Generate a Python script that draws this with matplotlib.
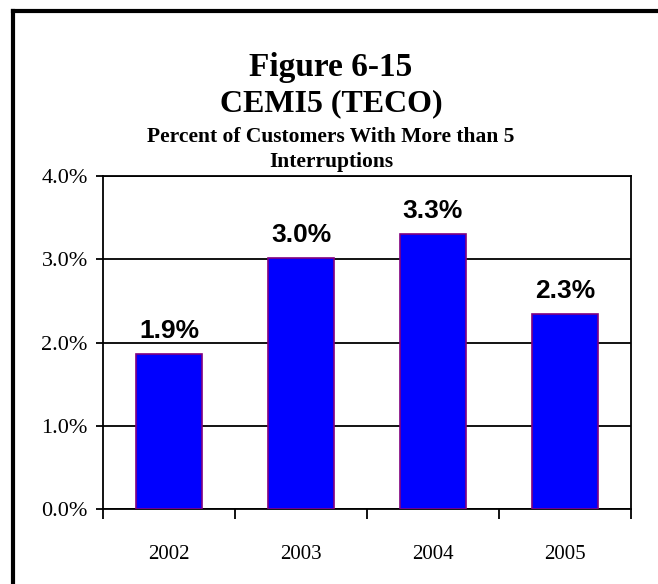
import matplotlib
matplotlib.use("Agg")
import matplotlib.pyplot as plt
from matplotlib.lines import Line2D
from matplotlib.ticker import FuncFormatter

# chart data
years = ["2002", "2003", "2004", "2005"]
cemi5_pct = [1.86, 3.01, 3.30, 2.34]
y_ticks = [0.0, 1.0, 2.0, 3.0, 4.0]

title_lines = ["Figure 6-15", "CEMI5 (TECO)"]
subtitle_lines = ["Percent of Customers With More than 5", "Interruptions"]

fig = plt.figure(figsize=(6.58, 5.84), dpi=100)
ax = fig.add_axes([0.1565, 0.1284, 0.8025, 0.5702])

x = range(len(years))
bars = ax.bar(x, cemi5_pct, width=0.5, color="#0000FF", edgecolor="#800080",
              linewidth=1.2, zorder=3)

# value labels above bars
for i, v in enumerate(cemi5_pct):
    ax.annotate(f"{v:.1f}%", (i, v), xytext=(0, 8), textcoords="offset points",
                ha="center", va="bottom", fontsize=19, fontweight="bold",
                family="Liberation Sans")

ax.set_xlim(-0.5, len(years) - 0.5)
ax.set_ylim(0, 4.0)
ax.set_yticks(y_ticks)
ax.yaxis.set_major_formatter(FuncFormatter(lambda v, p: f"{v:.1f}%"))
ax.grid(axis="y", color="black", linewidth=1.3, zorder=0)

# year labels centred on bars, tick marks between categories
ax.set_xticks([i - 0.5 for i in range(len(years) + 1)])
ax.set_xticklabels([])
ax.set_xticks(list(x), minor=True)
ax.set_xticklabels(years, minor=True)
ax.tick_params(axis="x", which="major", length=7, width=1.3, direction="out")
ax.tick_params(axis="x", which="minor", length=0, pad=26, labelsize=15)
ax.tick_params(axis="y", length=5, width=1.3, direction="out", labelsize=16, pad=6)
for lab in ax.get_xticklabels(minor=True) + ax.get_yticklabels():
    lab.set_family("Liberation Serif")

for s in ax.spines.values():
    s.set_linewidth(1.3)
    s.set_color("black")

# titles
fig.text(0.503, 0.884, title_lines[0], ha="center", va="center", fontsize=24,
         fontweight="bold", family="Liberation Serif")
fig.text(0.503, 0.822, title_lines[1], ha="center", va="center", fontsize=23,
         fontweight="bold", family="Liberation Serif")
fig.text(0.503, 0.765, subtitle_lines[0], ha="center", va="center", fontsize=15.5,
         fontweight="bold", family="Liberation Serif")
fig.text(0.503, 0.722, subtitle_lines[1], ha="center", va="center", fontsize=15.5,
         fontweight="bold", family="Liberation Serif")

# outer frame (only left and top edges visible)
fig.add_artist(Line2D([13 / 658, 13 / 658], [0, 1 - 11 / 584], color="black",
                      linewidth=3, transform=fig.transFigure, solid_capstyle="projecting"))
fig.add_artist(Line2D([13 / 658, 1], [1 - 11 / 584, 1 - 11 / 584], color="black",
                      linewidth=3, transform=fig.transFigure, solid_capstyle="projecting"))

fig.savefig("out.png", dpi=100)
